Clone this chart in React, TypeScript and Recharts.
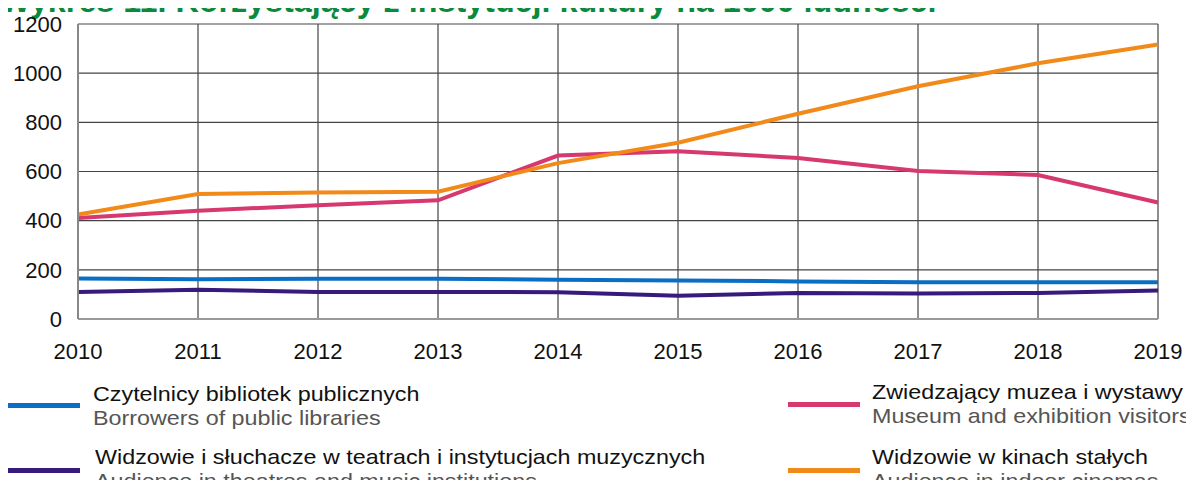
import { LineChart, Line, XAxis, YAxis, CartesianGrid } from "recharts";

const years = ["2010", "2011", "2012", "2013", "2014", "2015", "2016", "2017", "2018", "2019"];
const libraries = [165, 162, 164, 164, 160, 157, 153, 149, 149, 149];
const theatres = [110, 119, 110, 110, 109, 95, 106, 104, 106, 116];
const museums = [411, 440, 463, 483, 665, 682, 655, 602, 586, 474];
const cinemas = [425, 508, 515, 518, 634, 717, 835, 947, 1040, 1117];
const yTicks = [0, 200, 400, 600, 800, 1000, 1200];

const data = years.map((year, i) => ({
  year,
  libraries: libraries[i],
  theatres: theatres[i],
  museums: museums[i],
  cinemas: cinemas[i],
}));

const FONT = "'Liberation Sans', Arial, sans-serif";

const legendItems = [
  { color: "#0a6fc4", pl: "Czytelnicy bibliotek publicznych", en: "Borrowers of public libraries", swatchX: 8, textX: 93, top: 382, lineY: 405 },
  { color: "#361a7c", pl: "Widzowie i słuchacze w teatrach i instytucjach muzycznych", en: "Audience in theatres and music institutions", swatchX: 8, textX: 95, top: 445, lineY: 470 },
  { color: "#d6386f", pl: "Zwiedzający muzea i wystawy", en: "Museum and exhibition visitors", swatchX: 788, textX: 872, top: 380, lineY: 404 },
  { color: "#f28a1a", pl: "Widzowie w kinach stałych", en: "Audience in indoor cinemas", swatchX: 788, textX: 872, top: 445, lineY: 470 },
];

export default function App() {
  return (
    <div style={{ margin: -8, width: 1194, height: 488, position: "relative", overflow: "hidden", background: "#fff", fontFamily: FONT }}>
      <div
        style={{
          position: "absolute",
          left: 0,
          top: -15,
          fontSize: 32.3,
          lineHeight: "32px",
          fontWeight: "bold",
          color: "#0b8a3e",
          whiteSpace: "nowrap",
        }}
      >
        Wykres 11. Korzystający z instytucji kultury na 1000 ludności
      </div>

      <div style={{ position: "absolute", left: 0, top: 0 }}>
        <LineChart width={1194} height={370} data={data} margin={{ top: 24, right: 36, left: 0, bottom: 0 }}>
          <CartesianGrid stroke="#444" strokeWidth={1.2} />
          <XAxis
            dataKey="year"
            height={51}
            tickLine={false}
            tickSize={6}
            tickMargin={18}
            axisLine={{ stroke: "#999", strokeWidth: 2 }}
            tick={{ fontSize: 22, fill: "#111", fontFamily: FONT }}
            interval={0}
          />
          <YAxis
            width={78}
            domain={[0, 1200]}
            ticks={yTicks}
            tickLine={false}
            tickSize={6}
            tickMargin={10}
            axisLine={{ stroke: "#888", strokeWidth: 2 }}
            tick={{ fontSize: 22, fill: "#111", fontFamily: FONT }}
          />
          <Line type="linear" dataKey="libraries" stroke="#0a6fc4" strokeWidth={4} dot={false} isAnimationActive={false} />
          <Line type="linear" dataKey="theatres" stroke="#361a7c" strokeWidth={4} dot={false} isAnimationActive={false} />
          <Line type="linear" dataKey="museums" stroke="#d6386f" strokeWidth={4} dot={false} isAnimationActive={false} />
          <Line type="linear" dataKey="cinemas" stroke="#f28a1a" strokeWidth={4} dot={false} isAnimationActive={false} />
        </LineChart>
      </div>

      {legendItems.map((item) => (
        <div key={item.pl}>
          <div
            style={{
              position: "absolute",
              left: item.swatchX,
              top: item.lineY - 2.5,
              width: 72,
              height: 5,
              background: item.color,
            }}
          />
          <div
            style={{
              position: "absolute",
              left: item.textX,
              top: item.top,
              fontSize: 21,
              lineHeight: "24px",
              whiteSpace: "nowrap",
              transform: "scaleX(1.11)",
              transformOrigin: "left top",
            }}
          >
            <div style={{ color: "#111" }}>{item.pl}</div>
            <div style={{ color: "#555" }}>{item.en}</div>
          </div>
        </div>
      ))}
    </div>
  );
}
